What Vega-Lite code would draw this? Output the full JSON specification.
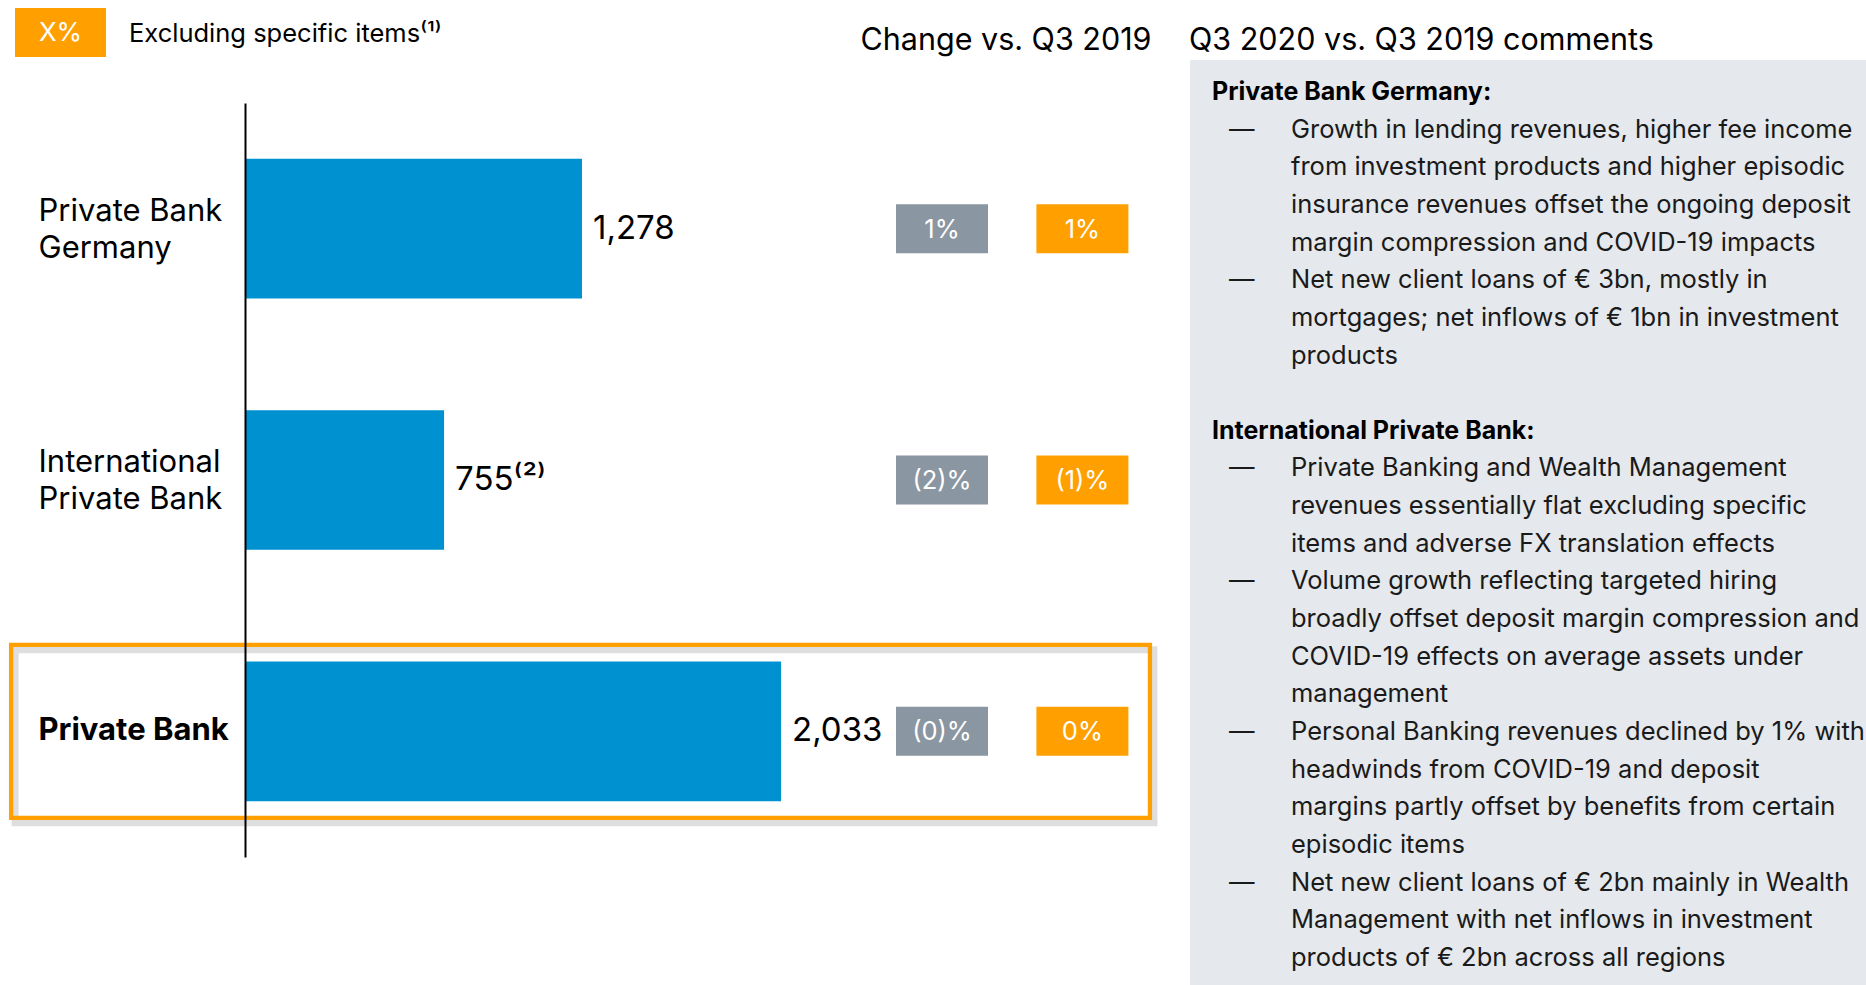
{
  "$schema": "https://vega.github.io/schema/vega-lite/v6.json",
  "width": 906,
  "height": 754,
  "autosize": {"type": "none"},
  "padding": {"left": 245, "top": 103, "right": 715, "bottom": 128},
  "background": "#ffffff",
  "config": {"view": {"stroke": null}, "font": "Inter", "text": {"font": "Inter"}},
  "datasets": {
    "revenues": [
      {"segment": "Private Bank Germany", "revenue": 1278, "note": ""},
      {"segment": "International Private Bank", "revenue": 755, "note": "⁽²⁾"},
      {"segment": "Private Bank", "revenue": 2033, "note": ""}
    ],
    "changes": [
      {"segment": "Private Bank Germany", "measure": "Reported", "label": "1%"},
      {"segment": "Private Bank Germany", "measure": "Excluding specific items", "label": "1%"},
      {"segment": "International Private Bank", "measure": "Reported", "label": "(2)%"},
      {"segment": "International Private Bank", "measure": "Excluding specific items", "label": "(1)%"},
      {"segment": "Private Bank", "measure": "Reported", "label": "(0)%"},
      {"segment": "Private Bank", "measure": "Excluding specific items", "label": "0%"}
    ],
    "comments": [
      {"line": -1, "indent": 0, "kind": "header", "bullet": false, "text": "Q3 2020 vs. Q3 2019 comments"},
      {"line": 0, "indent": 0, "kind": "heading", "bullet": false, "text": "Private Bank Germany:"},
      {"line": 1, "indent": 1, "kind": "text", "bullet": true, "text": "Growth in lending revenues, higher fee income"},
      {"line": 2, "indent": 1, "kind": "text", "bullet": false, "text": "from investment products and higher episodic"},
      {"line": 3, "indent": 1, "kind": "text", "bullet": false, "text": "insurance revenues offset the ongoing deposit"},
      {"line": 4, "indent": 1, "kind": "text", "bullet": false, "text": "margin compression and COVID-19 impacts"},
      {"line": 5, "indent": 1, "kind": "text", "bullet": true, "text": "Net new client loans of € 3bn, mostly in"},
      {"line": 6, "indent": 1, "kind": "text", "bullet": false, "text": "mortgages; net inflows of € 1bn in investment"},
      {"line": 7, "indent": 1, "kind": "text", "bullet": false, "text": "products"},
      {"line": 9, "indent": 0, "kind": "heading", "bullet": false, "text": "International Private Bank:"},
      {"line": 10, "indent": 1, "kind": "text", "bullet": true, "text": "Private Banking and Wealth Management"},
      {"line": 11, "indent": 1, "kind": "text", "bullet": false, "text": "revenues essentially flat excluding specific"},
      {"line": 12, "indent": 1, "kind": "text", "bullet": false, "text": "items and adverse FX translation effects"},
      {"line": 13, "indent": 1, "kind": "text", "bullet": true, "text": "Volume growth reflecting targeted hiring"},
      {"line": 14, "indent": 1, "kind": "text", "bullet": false, "text": "broadly offset deposit margin compression and"},
      {"line": 15, "indent": 1, "kind": "text", "bullet": false, "text": "COVID-19 effects on average assets under"},
      {"line": 16, "indent": 1, "kind": "text", "bullet": false, "text": "management"},
      {"line": 17, "indent": 1, "kind": "text", "bullet": true, "text": "Personal Banking revenues declined by 1% with"},
      {"line": 18, "indent": 1, "kind": "text", "bullet": false, "text": "headwinds from COVID-19 and deposit"},
      {"line": 19, "indent": 1, "kind": "text", "bullet": false, "text": "margins partly offset by benefits from certain"},
      {"line": 20, "indent": 1, "kind": "text", "bullet": false, "text": "episodic items"},
      {"line": 21, "indent": 1, "kind": "text", "bullet": true, "text": "Net new client loans of € 2bn mainly in Wealth"},
      {"line": 22, "indent": 1, "kind": "text", "bullet": false, "text": "Management with net inflows in investment"},
      {"line": 23, "indent": 1, "kind": "text", "bullet": false, "text": "products of € 2bn across all regions"}
    ]
  },
  "layer": [
    {
      "data": {"name": "revenues"},
      "layer": [
        {
          "transform": [{"filter": "datum.segment == 'Private Bank'"}],
          "mark": {"type": "bar", "height": 173, "fillOpacity": 0, "stroke": "#000000", "strokeOpacity": 0.13, "strokeWidth": 7, "yOffset": 5},
          "encoding": {
            "x": {"datum": -872, "type": "quantitative", "scale": {"domain": [0, 3436], "nice": false, "zero": true}, "axis": null},
            "x2": {"datum": 3447},
            "y": {"field": "segment", "type": "nominal", "sort": ["Private Bank Germany", "International Private Bank", "Private Bank"]}
          }
        },
        {
          "transform": [{"filter": "datum.segment == 'Private Bank'"}],
          "mark": {"type": "bar", "height": 173, "fillOpacity": 0, "stroke": "#FFA000", "strokeWidth": 4.3},
          "encoding": {
            "x": {"datum": -887, "type": "quantitative", "scale": {"domain": [0, 3436], "nice": false, "zero": true}, "axis": null},
            "x2": {"datum": 3432},
            "y": {"field": "segment", "type": "nominal", "sort": ["Private Bank Germany", "International Private Bank", "Private Bank"]}
          }
        },
        {
          "mark": {"type": "bar", "color": "#0091D0"},
          "encoding": {
            "x": {
              "field": "revenue", "type": "quantitative",
              "scale": {"domain": [0, 3436], "nice": false, "zero": true},
              "axis": {"orient": "top", "labels": false, "ticks": false, "domain": false, "grid": false,
                       "title": "Change vs. Q3 2019", "titleAnchor": "end", "titleFontSize": 30.5,
                       "titleFontWeight": "normal", "titleColor": "#000000", "titlePadding": 48, "titleFont": "Inter"}
            },
            "y": {
              "field": "segment", "type": "nominal",
              "sort": ["Private Bank Germany", "International Private Bank", "Private Bank"],
              "scale": {"paddingInner": 0.444, "paddingOuter": 0.222},
              "axis": {
                "title": null, "ticks": false, "tickSize": 0, "grid": false,
                "domain": true, "domainColor": "#000000", "domainWidth": 2,
                "labelAlign": "left", "labelPadding": 207, "labelFontSize": 31, "labelFont": "Inter",
                "labelColor": "#000000", "labelLimit": 400, "labelLineHeight": 37, "labelBaseline": "middle",
                "labelFontWeight": {"condition": {"test": "datum.value == 'Private Bank'", "value": "bold"}, "value": "normal"},
                "labelOffset": {"condition": {"test": "datum.value == 'Private Bank'", "value": 0}, "value": -17},
                "labelExpr": "datum.value == 'Private Bank Germany' ? ['Private Bank', 'Germany'] : datum.value == 'International Private Bank' ? ['International', 'Private Bank'] : datum.value",
                "zindex": 1
              }
            }
          }
        },
        {
          "transform": [{"calculate": "format(datum.revenue, ',') + datum.note", "as": "label"}],
          "mark": {"type": "text", "align": "left", "baseline": "middle", "dx": 11, "fontSize": 33, "color": "#000000"},
          "encoding": {
            "x": {"field": "revenue", "type": "quantitative", "scale": {"domain": [0, 3436], "nice": false, "zero": true}, "axis": null},
            "y": {"field": "segment", "type": "nominal", "sort": ["Private Bank Germany", "International Private Bank", "Private Bank"]},
            "text": {"field": "label"}
          }
        },
        {
          "data": {"name": "changes"},
          "mark": {"type": "rect", "width": 92, "height": 49},
          "encoding": {
            "x": {"field": "measure", "type": "nominal", "sort": ["Reported", "Excluding specific items"],
                  "scale": {"type": "point", "range": [697, 837.4], "padding": 0}, "axis": null},
            "y": {"field": "segment", "type": "nominal", "sort": ["Private Bank Germany", "International Private Bank", "Private Bank"]},
            "color": {
              "field": "measure", "type": "nominal",
              "scale": {"domain": ["Reported", "Excluding specific items"], "range": ["#8A96A1", "#FFA000"]},
              "legend": {
                "orient": "none", "legendX": -230, "legendY": -116, "padding": 0,
                "values": ["Excluding specific items"],
                "symbolType": "M-1,-0.5385H1V0.5385H-1Z", "symbolSize": 8281,
                "symbolStrokeWidth": 0, "symbolOpacity": 1,
                "labelExpr": "'X%'", "labelColor": "#ffffff", "labelFontSize": 26, "labelFont": "Inter",
                "labelAlign": "center", "labelOffset": -45.5,
                "title": "Excluding specific items⁽¹⁾", "titleOrient": "right", "titlePadding": 23,
                "titleFontSize": 25.5, "titleFontWeight": "normal", "titleColor": "#000000", "titleFont": "Inter",
                "titleLimit": 600, "titleBaseline": "top"
              }
            }
          }
        },
        {
          "data": {"name": "changes"},
          "mark": {"type": "text", "align": "center", "baseline": "middle", "dy": 1, "fontSize": 25.5, "color": "#ffffff"},
          "encoding": {
            "x": {"field": "measure", "type": "nominal", "sort": ["Reported", "Excluding specific items"],
                  "scale": {"type": "point", "range": [697, 837.4], "padding": 0}, "axis": null},
            "y": {"field": "segment", "type": "nominal", "sort": ["Private Bank Germany", "International Private Bank", "Private Bank"]},
            "text": {"field": "label"}
          }
        }
      ],
      "resolve": {"scale": {"x": "independent"}}
    },
    {
      "layer": [
        {
          "data": {"values": [{"panel": "comments"}]},
          "mark": {"type": "rect", "color": "#E5E8EC"},
          "encoding": {
            "x": {"datum": -0.2785, "type": "quantitative", "scale": {"domain": [-12.241, -0.772], "zero": false, "nice": false}, "axis": null},
            "x2": {"datum": 9},
            "y": {"datum": -0.85, "type": "quantitative", "scale": {"domain": [0.2922, 20.319], "reverse": true, "zero": false, "nice": false}, "axis": null},
            "y2": {"datum": 25}
          }
        },
        {
          "data": {"name": "comments"},
          "transform": [{"filter": "datum.kind == 'header'"}],
          "mark": {"type": "text", "align": "left", "baseline": "middle", "dx": -23, "dy": -13, "fontSize": 30.5, "color": "#000000"},
          "encoding": {
            "x": {"field": "indent", "type": "quantitative", "scale": {"domain": [-12.241, -0.772], "zero": false, "nice": false}, "axis": null},
            "y": {"field": "line", "type": "quantitative", "scale": {"domain": [0.2922, 20.319], "reverse": true, "zero": false, "nice": false}, "axis": null},
            "text": {"field": "text"}
          }
        },
        {
          "data": {"name": "comments"},
          "transform": [{"filter": "datum.kind == 'heading'"}],
          "mark": {"type": "text", "align": "left", "baseline": "middle", "fontSize": 25, "fontWeight": "bold", "color": "#000000"},
          "encoding": {
            "x": {"field": "indent", "type": "quantitative", "scale": {"domain": [-12.241, -0.772], "zero": false, "nice": false}, "axis": null},
            "y": {"field": "line", "type": "quantitative", "scale": {"domain": [0.2922, 20.319], "reverse": true, "zero": false, "nice": false}, "axis": null},
            "text": {"field": "text"}
          }
        },
        {
          "data": {"name": "comments"},
          "transform": [{"filter": "datum.bullet"}],
          "mark": {"type": "text", "align": "left", "baseline": "middle", "dx": -62, "fontSize": 25.5, "color": "#1a1a1a", "text": "—"},
          "encoding": {
            "x": {"field": "indent", "type": "quantitative", "scale": {"domain": [-12.241, -0.772], "zero": false, "nice": false}, "axis": null},
            "y": {"field": "line", "type": "quantitative", "scale": {"domain": [0.2922, 20.319], "reverse": true, "zero": false, "nice": false}, "axis": null}
          }
        },
        {
          "data": {"name": "comments"},
          "transform": [{"filter": "datum.kind == 'text'"}],
          "mark": {"type": "text", "align": "left", "baseline": "middle", "fontSize": 25.5, "color": "#1a1a1a"},
          "encoding": {
            "x": {"field": "indent", "type": "quantitative", "scale": {"domain": [-12.241, -0.772], "zero": false, "nice": false}, "axis": null},
            "y": {"field": "line", "type": "quantitative", "scale": {"domain": [0.2922, 20.319], "reverse": true, "zero": false, "nice": false}, "axis": null},
            "text": {"field": "text"}
          }
        }
      ]
    }
  ],
  "resolve": {"scale": {"x": "independent", "y": "independent"}}
}
